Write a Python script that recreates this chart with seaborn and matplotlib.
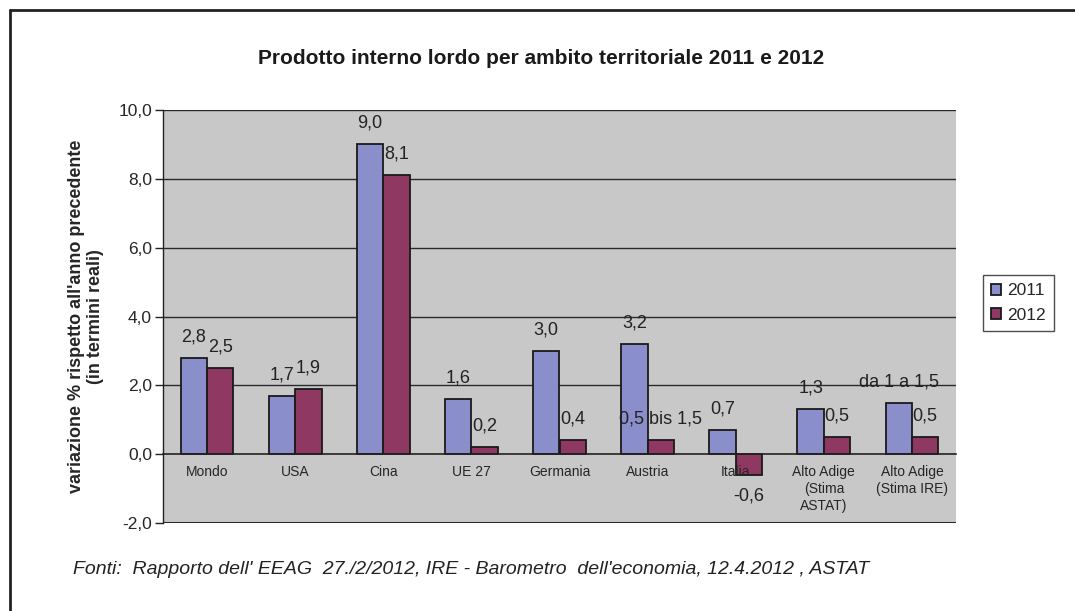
import matplotlib
matplotlib.use("Agg")
import matplotlib.pyplot as plt
from matplotlib.lines import Line2D
from matplotlib.ticker import FixedLocator, FuncFormatter
import seaborn as sns
import pandas as pd

categories = ["Mondo", "USA", "Cina", "UE 27", "Germania", "Austria", "Italia",
              "Alto Adige\n(Stima\nASTAT)", "Alto Adige\n(Stima IRE)"]
values_2011 = [2.8, 1.7, 9.0, 1.6, 3.0, 3.2, 0.7, 1.3, 1.5]
values_2012 = [2.5, 1.9, 8.1, 0.2, 0.4, 0.4, -0.6, 0.5, 0.5]
labels_2011 = ["2,8", "1,7", "9,0", "1,6", "3,0", "3,2", "0,7", "1,3", "da 1 a 1,5"]
labels_2012 = ["2,5", "1,9", "8,1", "0,2", "0,4", "0,5 bis 1,5", "-0,6", "0,5", "0,5"]
years = ["2011", "2012"]
y_ticks = [-2, 0, 2, 4, 6, 8, 10]

title = "Prodotto interno lordo per ambito territoriale 2011 e 2012"
ylabel = "variazione % rispetto all'anno precedente\n(in termini reali)"
footer = "Fonti:  Rapporto dell' EEAG  27./2/2012, IRE - Barometro  dell'economia, 12.4.2012 , ASTAT"

df = pd.DataFrame({
    "cat": categories * 2,
    "val": values_2011 + values_2012,
    "year": [years[0]] * len(categories) + [years[1]] * len(categories),
})

sns.set_style("white")
plt.rcParams["font.family"] = ["Liberation Sans", "DejaVu Sans"]

fig = plt.figure(figsize=(10.75, 6.11), dpi=100)
ax = fig.add_axes([163 / 1075, 1 - 523 / 611, (956 - 163) / 1075, (523 - 110) / 611])
ax.set_facecolor("#C8C8C8")

palette = {"2011": "#8A8ECA", "2012": "#8E3862"}
sns.barplot(data=df, x="cat", y="val", hue="year", order=categories,
            hue_order=years, palette=palette, width=0.6, gap=0, saturation=1,
            edgecolor="#1a1a1a", linewidth=1.3, ax=ax, legend=True, zorder=3)

ax.set_ylim(-2, 10)
ax.set_xlim(-0.5, len(categories) - 0.5)
ax.yaxis.set_major_locator(FixedLocator(y_ticks))
ax.yaxis.set_major_formatter(FuncFormatter(lambda v, p: f"{v:.1f}".replace(".", ",")))
ax.tick_params(axis="y", direction="out", length=6, width=1, color="#222222",
               labelsize=12.5, pad=2, left=True)
ax.set_axisbelow(True)
for yv in y_ticks:
    if yv != 0:
        ax.axhline(yv, color="#2a2a2a", lw=1.0 if yv != -2 else 2.2, zorder=1)

for s in ["top", "right"]:
    ax.spines[s].set_visible(False)
ax.spines["left"].set_color("#222222")
ax.spines["left"].set_linewidth(1.0)
ax.spines["bottom"].set_position(("data", 0))
ax.spines["bottom"].set_color("#222222")
ax.spines["bottom"].set_linewidth(1.2)
ax.spines["bottom"].set_zorder(4)

ax.set_xticks(range(len(categories)))
ax.set_xticklabels(categories, fontsize=10, va="top", linespacing=1.25)
ax.tick_params(axis="x", which="major", length=0, pad=8)
ax.set_xticks([i + 0.5 for i in range(len(categories) - 1)], minor=True)
ax.tick_params(axis="x", which="minor", length=5, width=1, color="#222222", direction="out")
ax.xaxis.set_zorder(5)
ax.set_xlabel("")
ax.set_ylabel(ylabel, fontsize=13, fontweight="bold", labelpad=10, linespacing=1.15)

for cont, labs in zip(ax.containers, [labels_2011, labels_2012]):
    ax.bar_label(cont, labels=labs, padding=9, fontsize=13, color="#222222")

handles, _ = ax.get_legend_handles_labels()
leg = ax.legend(handles, years, loc="center left", bbox_to_anchor=(983 / 1075, 1 - 303 / 611),
                bbox_transform=fig.transFigure, frameon=True, fontsize=12.5,
                handlelength=0.6, handleheight=0.6, handletextpad=0.35,
                borderpad=0.45, labelspacing=0.55, fancybox=False, borderaxespad=0)
leg.get_frame().set_edgecolor("#222222")
leg.get_frame().set_linewidth(1.0)

fig.text(541 / 1075, 1 - 58 / 611, title, ha="center", va="center",
         fontsize=15, fontweight="bold", color="#1a1a1a")
fig.text(73 / 1075, 1 - 570 / 611, footer, ha="left", va="center",
         fontsize=14, style="italic", color="#222222")

fig.add_artist(Line2D([10 / 1075, 10 / 1075], [0, 1 - 10 / 611], transform=fig.transFigure,
                      color="#222222", lw=2))
fig.add_artist(Line2D([10 / 1075, 1], [1 - 10 / 611, 1 - 10 / 611], transform=fig.transFigure,
                      color="#222222", lw=2))

fig.savefig("out.png", dpi=100)
